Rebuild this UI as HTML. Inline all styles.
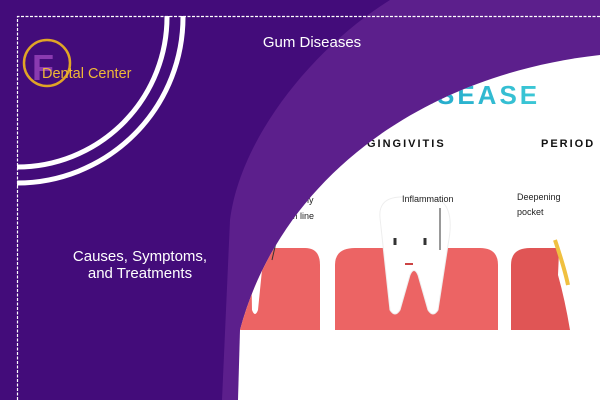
<!DOCTYPE html>
<html><head><style>
html,body{margin:0;padding:0;width:600px;height:400px;overflow:hidden}
body{background:#430c7a;font-family:"Liberation Sans",sans-serif;position:relative}
svg{display:block;position:absolute;left:0;top:0}
</style></head><body>
<svg width="600" height="400" viewBox="0 0 600 400" xmlns="http://www.w3.org/2000/svg">
<defs>
<clipPath id="wc"><path d="M600,55 C420,75 280,180 240,330 L238,400 H600 Z"/></clipPath>
<linearGradient id="g" x1="0" x2="1"><stop offset="0" stop-color="#1fa3c9"/><stop offset="1" stop-color="#3cc8d6"/></linearGradient>
</defs>
<rect width="600" height="400" fill="#430c7a"/>
<path d="M390,0 C310,50 240,140 230,220 L222,400 L600,400 L600,0 Z" fill="#5c1f8c"/>
<path d="M17.5,400 V16.5 H600" fill="none" stroke="#fff" stroke-width="1.2" stroke-dasharray="3,1.5"/>
<path d="M17,167 A150,150 0 0 0 167,16" fill="none" stroke="#fff" stroke-width="5"/>
<path d="M17,183 A166,166 0 0 0 183,16" fill="none" stroke="#fff" stroke-width="5"/>
<circle cx="47" cy="63" r="23" fill="none" stroke="#e1a526" stroke-width="2.5"/>
<text x="32" y="80" font-size="36" font-weight="bold" fill="#8a3ab0">F</text>
<text x="42" y="78" font-size="14.5" fill="#f0b836">Dental Center</text>
<text x="312" y="47" font-size="15" fill="#fff" text-anchor="middle">Gum Diseases</text>
<text x="140" y="261" font-size="15" fill="#fff" text-anchor="middle">Causes, Symptoms,</text>
<text x="140" y="278" font-size="15" fill="#fff" text-anchor="middle">and Treatments</text>
<path d="M600,55 C420,75 280,180 240,330 L238,400 H600 Z" fill="#fff"/>
<g clip-path="url(#wc)">
<text x="405" y="104" font-size="26" font-weight="bold" fill="url(#g)" letter-spacing="3">DISEASE</text>
<text x="367" y="147" font-size="11" font-weight="bold" fill="#111" letter-spacing="2">GINGIVITIS</text>
<text x="541" y="147" font-size="11" font-weight="bold" fill="#111" letter-spacing="2">PERIOD</text>
<path d="M230,330 V265 Q230,248 250,248 H305 Q320,248 320,265 V330Z" fill="#ec6464"/>
<path d="M335,330 V265 Q335,248 355,248 H480 Q498,248 498,265 V330Z" fill="#ec6464"/>
<path d="M511,330 V265 Q511,248 530,248 H600 V330Z" fill="#e05555"/>
<path d="M250,200 Q275,205 265,240 L258,310 Q255,318 252,310 Z" fill="#fff"/>
<path d="M380,218 Q378,198 400,197 Q418,196 440,200 Q455,210 448,245 L438,310 Q433,318 428,310 L418,275 Q414,266 410,275 L400,310 Q395,318 390,310 Z" fill="#fff" stroke="#eee" stroke-width="1"/>
<path d="M395,238 v7 M425,238 v7" stroke="#333" stroke-width="3"/>
<path d="M405,264 h8" stroke="#c44" stroke-width="2"/>
<path d="M440,208 V250" stroke="#333" stroke-width="1"/>
<path d="M560,230 Q580,215 600,225 V330 H570 Q565,300 558,275 Z" fill="#fff"/>
<path d="M555,240 Q565,270 568,285" stroke="#f0c040" stroke-width="4" fill="none"/>
<text x="402" y="202" font-size="9" fill="#222">Inflammation</text>
<text x="517" y="200" font-size="9" fill="#222">Deepening</text>
<text x="517" y="215" font-size="9" fill="#222">pocket</text>
<text x="283" y="203" font-size="9" fill="#222">Healthy</text>
<text x="280" y="219" font-size="9" fill="#222">gum line</text>
<path d="M280,225 L272,260" stroke="#333" stroke-width="1"/>
</g>
</svg>
</body></html>
